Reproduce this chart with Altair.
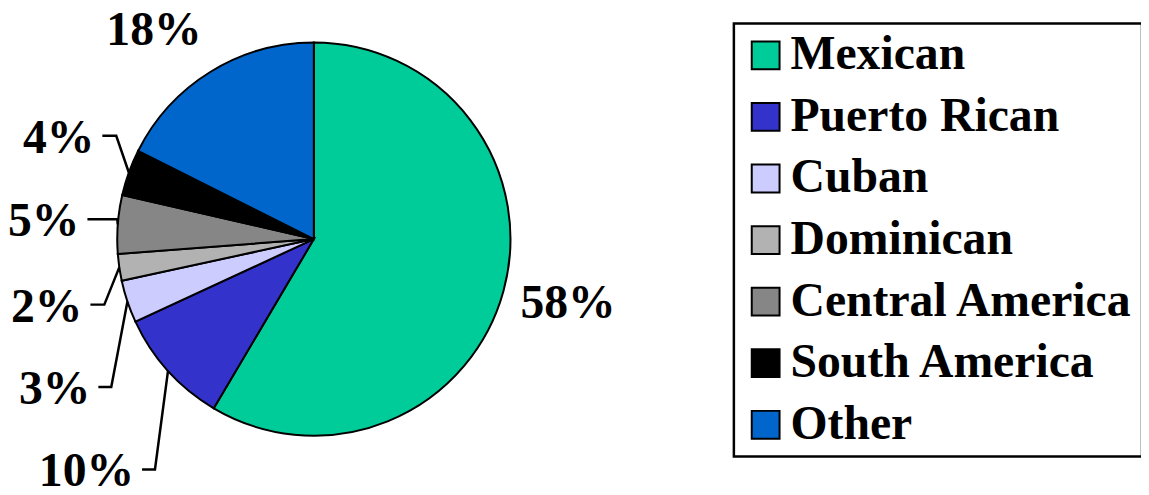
import math
import altair as alt
import pandas as pd

# ---- data (2000 Census, Hispanic origin) ----
categories = ["Mexican", "Puerto Rican", "Cuban", "Dominican",
              "Central America", "South America", "Other"]
shares = [58.5, 9.6, 3.5, 2.2, 4.8, 3.8, 17.6]
labels = ["58%", "10%", "3%", "2%", "5%", "4%", "18%"]

# ---- styles ----
colors = ["#00CC99", "#3333CC", "#CCCCFF", "#B2B2B2",
          "#868686", "#000000", "#0066CC"]
FONT = "Liberation Serif"
FS = 48

# ---- layout (pixels in the chart frame) ----
CX, CY, R = 308, 231, 198
# leader-line labels: category -> (line end x, line y, horizontal elbow length)
leader_layout = {
    "Puerto Rican": (135, 463, 13),
    "Cuban": (91, 380, 13),
    "Dominican": (83, 297, 14),
    "Central America": (80, 211, 30),
    "South America": (95, 127, 14),
}
# free labels: category -> (text centre x, baseline y)
free_layout = {"Mexican": (564, 310), "Other": (147, 36)}

df = pd.DataFrame({"category": categories, "share": shares,
                   "label": labels, "idx": list(range(len(categories)))})

total = sum(shares)
mids = {}
cum = 0.0
for c, s in zip(categories, shares):
    mids[c] = 2 * math.pi * (cum + s / 2) / total
    cum += s

line_rows, lead_text, free_text = [], [], []
for c, lab in zip(categories, labels):
    a = mids[c]
    if c in leader_layout:
        ex, ly, el = leader_layout[c]
        sx = CX + R * math.sin(a)
        sy = CY - R * math.cos(a)
        for k, (px, py) in enumerate([(sx, sy), (ex + el, ly), (ex, ly)]):
            line_rows.append({"category": c, "seq": k, "px": px, "py": py})
        lead_text.append({"label": lab, "px": ex - 8, "py": ly + 17})
    else:
        fx, fy = free_layout[c]
        free_text.append({"label": lab, "px": fx, "py": fy})

lines_df = pd.DataFrame(line_rows)
lead_df = pd.DataFrame(lead_text)
free_df = pd.DataFrame(free_text)

pie = alt.Chart(df).mark_arc(
    x=CX, y=CY, outerRadius=R, stroke="black", strokeWidth=2
).encode(
    theta=alt.Theta("share:Q", stack=True),
    order=alt.Order("idx:Q"),
    color=alt.Color(
        "category:N",
        sort=categories,
        scale=alt.Scale(domain=categories, range=colors),
        legend=alt.Legend(
            title=None, orient="none", legendX=731, legendY=14,
            direction="vertical", padding=8,
            strokeColor="black",
            symbolType="square", symbolSize=784,
            symbolStrokeColor="black", symbolStrokeWidth=2,
            symbolOpacity=1,
            labelFont=FONT, labelFontSize=FS, labelFontWeight="bold",
            labelColor="black", labelOffset=1, labelLimit=0,
            rowPadding=14,
        ),
    ),
)

xs = alt.X("px:Q", scale=None, axis=None)
ys = alt.Y("py:Q", scale=None, axis=None)

leader_lines = alt.Chart(lines_df).mark_line(
    color="black", strokeWidth=2.5
).encode(x=xs, y=ys, detail="category:N", order="seq:Q")

lead_labels = alt.Chart(lead_df).mark_text(
    align="right", baseline="alphabetic", font=FONT, fontSize=FS,
    fontWeight="bold", color="black"
).encode(x=xs, y=ys, text="label:N")

free_labels = alt.Chart(free_df).mark_text(
    align="center", baseline="alphabetic", font=FONT, fontSize=FS,
    fontWeight="bold", color="black"
).encode(x=xs, y=ys, text="label:N")

chart = alt.layer(pie, leader_lines, lead_labels, free_labels).properties(
    width=1133, height=479, autosize="none",
    padding={"left": 0, "top": 0, "right": 8, "bottom": 8},
    background="white",
).configure_view(stroke=None).configure_legend(strokeWidth=2.5)

chart.save("out.html", embed_options={"renderer": "svg", "actions": False})
